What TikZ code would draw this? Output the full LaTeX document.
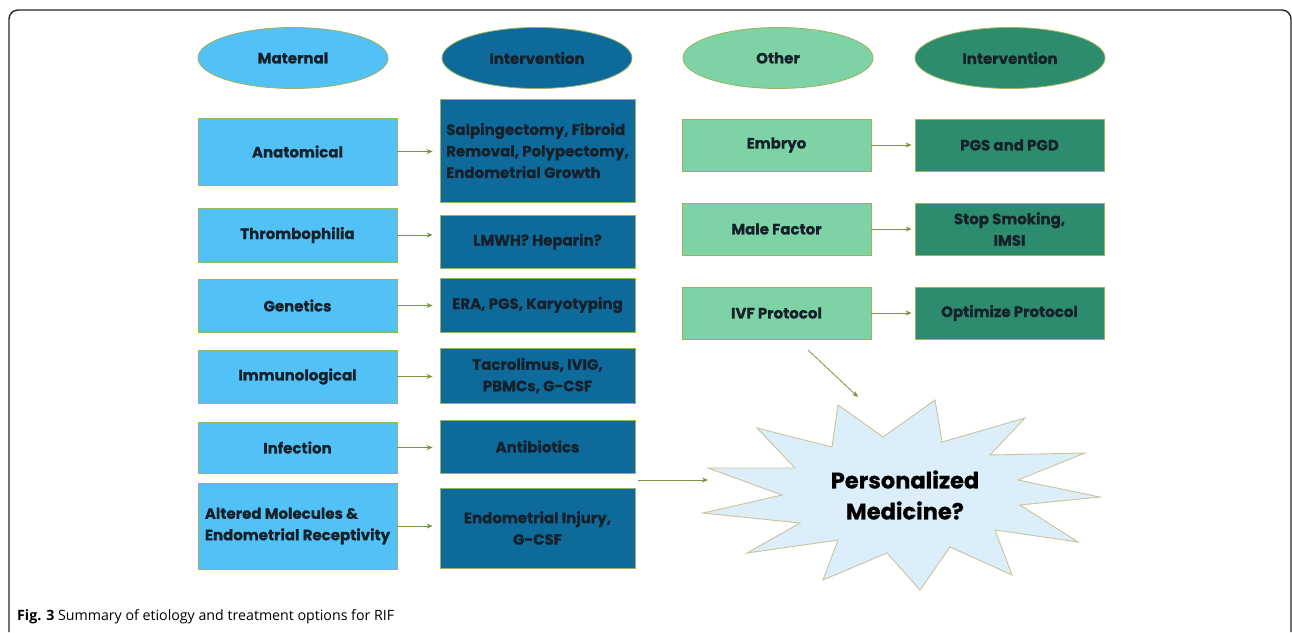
\documentclass[tikz,border=0pt]{standalone}
\usepackage{fontspec}
\setmainfont{Poppins}
\newfontfamily\boxfont[FakeBold=0.7]{Poppins}
\newfontfamily\capfont{Open Sans}
\usetikzlibrary{shapes.geometric,arrows.meta}
\definecolor{lblue}{HTML}{52C1F5}
\definecolor{dblue}{HTML}{0E6A9A}
\definecolor{lgreen}{HTML}{7ED3A6}
\definecolor{dgreen}{HTML}{2E8C6E}
\definecolor{bord}{HTML}{9BB35A}
\definecolor{arr}{HTML}{7A9440}
\definecolor{starfill}{HTML}{DCEEFA}
\definecolor{starbord}{HTML}{C9C49C}
\definecolor{txt}{HTML}{14202A}
\begin{document}
\begin{tikzpicture}[x=1pt,y=-1pt,
  boxtxt/.style={font=\boxfont\fontsize{15}{21.5}\selectfont\bfseries, text=txt, align=center, inner sep=0pt},
  lbox/.style={boxtxt, draw=bord, line width=0.8pt, fill=lblue, minimum width=199pt},
  dbbox/.style={boxtxt, draw=bord, line width=0.8pt, fill=dblue, minimum width=195pt},
  lgbox/.style={boxtxt, draw=bord, line width=0.8pt, fill=lgreen, minimum width=189pt, minimum height=52pt},
  dgbox/.style={boxtxt, draw=bord, line width=0.8pt, fill=dgreen, minimum width=189pt, minimum height=52pt},
  head/.style={boxtxt, ellipse, draw=bord, line width=0.8pt, minimum width=190pt, minimum height=61pt},
  conn/.style={draw=arr, line width=0.8pt, -{Stealth[length=6pt,width=5pt]}}
]
\useasboundingbox (0,0) rectangle (1292,632);
\fill[white] (0,0) rectangle (1292,632);
% frame
\draw[line width=1.4pt, color=black!85] (9,632) -- (9,19) arc[start angle=180, end angle=270, radius=9] -- (1282,10) arc[start angle=270, end angle=360, radius=9] -- (1291,632);

% headers
\node[head, fill=lblue] (hmat) at (293,58) {Maternal};
\node[head, fill=dblue] (hint1) at (537,58) {Intervention};
\node[head, fill=lgreen] (hoth) at (778,58) {Other};
\node[head, fill=dgreen] (hint2) at (1010,58) {Intervention};

% left column
\node[lbox, minimum height=67pt] (anat) at (297.5,151.5) {Anatomical};
\node[lbox, minimum height=54pt] (thromb) at (297.5,235) {Thrombophilia};
\node[lbox, minimum height=53pt] (gen) at (297.5,305.5) {Genetics};
\node[lbox, minimum height=53pt] (imm) at (297.5,376.5) {Immunological};
\node[lbox, minimum height=51pt] (inf) at (297.5,447.5) {Infection};
\node[lbox, minimum height=86pt, align=left] (alt) at (297.5,526) {Altered Molecules \&\\Endometrial Receptivity};

% interventions
\node[dbbox, minimum height=103pt, align=left] (i1) at (537.5,150.5) {Salpingectomy, Fibroid\\Removal, Polypectomy,\\Endometrial Growth};
\node[dbbox, minimum height=53pt] (i2) at (537.5,241.5) {LMWH? Heparin?};
\node[dbbox, minimum height=54pt] (i3) at (537.5,305) {ERA, PGS, Karyotyping};
\node[dbbox, minimum height=55pt] (i4) at (537.5,375.5) {Tacrolimus, IVIG,\\PBMCs, G-CSF};
\node[dbbox, minimum height=53pt] (i5) at (537.5,446.5) {Antibiotics};
\node[dbbox, minimum height=80pt] (i6) at (537.5,528) {Endometrial Injury,\\G-CSF};

% right column
\node[lgbox] (emb) at (776.5,145) {Embryo};
\node[lgbox] (male) at (776.5,229) {Male Factor};
\node[lgbox] (ivf) at (776.5,313) {IVF Protocol};
\node[dgbox] (pgs) at (1009.5,145) {PGS and PGD};
\node[dgbox] (stop) at (1009.5,229) {Stop Smoking,\\IMSI};
\node[dgbox] (opt) at (1009.5,313) {Optimize Protocol};

% arrows
\foreach \a/\b in {anat/i1, thromb/i2, gen/i3, imm/i4, inf/i5, alt/i6}
  \draw[conn, shorten >=7pt] (\a.east) -- (\a.east -| \b.west);
\foreach \a/\b in {emb/pgs, male/stop, ivf/opt}
  \draw[conn, shorten >=3pt] (\a.east) -- (\a.east -| \b.west);

% star
\draw[fill=starfill, draw=starbord, line width=0.9pt]
 (838,405) -- (883,437) -- (935,400) -- (942,442) -- (1025,418) -- (990,455)
 -- (1085,453) -- (1018,480) -- (1100,497) -- (1020,505) -- (1078,542)
 -- (995,530) -- (1012,575) -- (950,547) -- (920,590) -- (887,553)
 -- (823,580) -- (838,540) -- (747,553) -- (800,523) -- (703,513)
 -- (782,495) -- (708,468) -- (795,468) -- (757,428) -- (832,447) -- cycle;
\node[font=\boxfont\fontsize{22.5}{31}\selectfont\bfseries, text=black, align=center, inner sep=0pt] (star) at (905,495) {Personalized\\Medicine?};

\coordinate (s1) at (808,350);
\coordinate (e1) at (858,397);
\coordinate (s2) at (638,480);
\coordinate (e2) at (708,480);
\draw[conn] (s1) -- (e1);
\draw[conn] (s2) -- (e2);

% caption
\node[anchor=west, font=\capfont\fontsize{14.2}{17}\selectfont, inner sep=0pt] (cap) at (17,617) {\textbf{Fig. 3} Summary of etiology and treatment options for RIF};
\end{tikzpicture}
\end{document}
